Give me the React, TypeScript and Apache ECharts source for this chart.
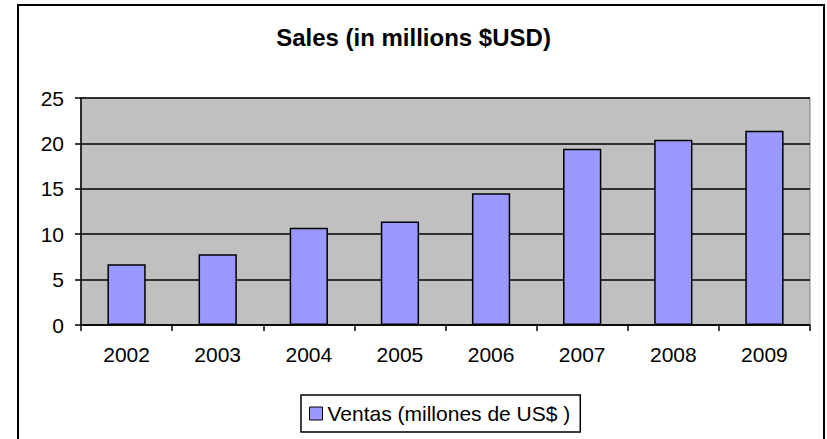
import React, { useEffect, useRef } from "react";
import * as echarts from "echarts";

const years = ["2002", "2003", "2004", "2005", "2006", "2007", "2008", "2009"];
const sales = [6.7, 7.8, 10.7, 11.4, 14.5, 19.4, 20.4, 21.4];
const titleText = "Sales (in millions $USD)";
const seriesName = "Ventas (millones de US$ )";

const FONT = "'Liberation Sans', Arial, sans-serif";

export default function App() {
  const ref = useRef<HTMLDivElement>(null);
  useEffect(() => {
    if (!ref.current) return;
    const chart = echarts.init(ref.current, undefined, { renderer: "svg" });
    chart.setOption({
      animation: false,
      backgroundColor: "#ffffff",
      textStyle: { fontFamily: FONT },
      title: {
        text: titleText,
        left: "center",
        top: 20,
        textStyle: { fontFamily: FONT, fontSize: 24, fontWeight: "bold", color: "#000" },
      },
      graphic: [
        {
          type: "rect",
          shape: { x: 18, y: 5, width: 806, height: 500 },
          style: { fill: "none", stroke: "#000", lineWidth: 2 },
          silent: true,
          z: 100,
        },
      ],
      legend: {
        left: 301,
        top: 395,
        orient: "horizontal",
        padding: [8, 10, 8, 8],
        borderColor: "#000",
        borderWidth: 1.5,
        itemWidth: 13,
        itemHeight: 13,
        itemGap: 5,
        icon: "rect",
        textStyle: { fontFamily: FONT, fontSize: 21, color: "#000" },
        data: [{ name: seriesName, itemStyle: { color: "#9999FF", borderColor: "#000", borderWidth: 1 } }],
      },
      grid: {
        left: 81,
        right: 17,
        top: 98,
        bottom: 114,
        show: true,
        backgroundColor: "#C0C0C0",
        borderColor: "#808080",
        borderWidth: 1,
        containLabel: false,
      },
      xAxis: {
        type: "category",
        data: years,
        axisLine: { show: true, lineStyle: { color: "#000", width: 1.5 } },
        axisTick: { show: true, length: 6, lineStyle: { color: "#000", width: 1.5 } },
        axisLabel: { fontFamily: FONT, fontSize: 21, color: "#000", margin: 19 },
        splitLine: { show: false },
      },
      yAxis: {
        type: "value",
        min: 0,
        max: 25,
        interval: 5,
        axisLine: { show: true, lineStyle: { color: "#000", width: 1.5 } },
        axisTick: { show: true, length: 6, lineStyle: { color: "#000", width: 1.5 } },
        axisLabel: { fontFamily: FONT, fontSize: 21, color: "#000", margin: 17 },
        splitLine: { show: true, lineStyle: { color: "#000", width: 1.5 } },
      },
      series: [
        {
          name: seriesName,
          type: "bar",
          data: sales,
          barCategoryGap: "58%",
          itemStyle: { color: "#9999FF", borderColor: "#000", borderWidth: 1.5 },
        },
      ],
    });
    return () => chart.dispose();
  }, []);
  return (
    <div
      ref={ref}
      style={{ position: "absolute", left: 0, top: 0, width: 827, height: 439 }}
    />
  );
}
